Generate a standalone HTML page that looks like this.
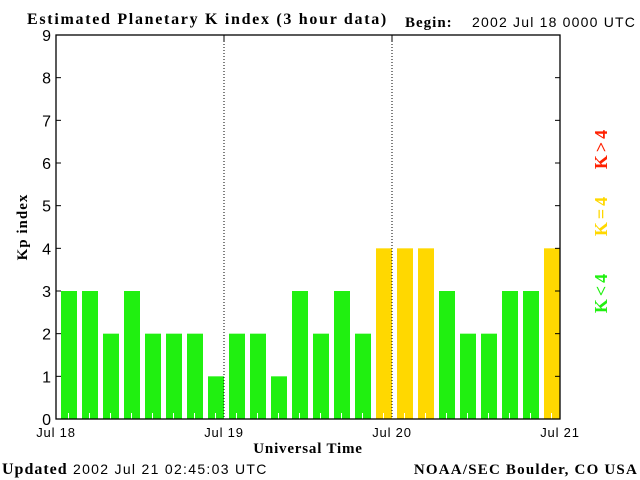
<!DOCTYPE html>
<html><head><meta charset="utf-8"><style>
html,body{margin:0;padding:0;background:#fff;}
svg{display:block;}
</style></head><body>
<svg width="640" height="480" xmlns="http://www.w3.org/2000/svg">
<rect x="0" y="0" width="640" height="480" fill="#fff"/>
<text x="27" y="24" font-family="Liberation Serif, serif" font-weight="bold" font-size="16" letter-spacing="1.7">Estimated Planetary K index (3 hour data)</text>
<text x="405" y="27" font-family="Liberation Serif, serif" font-weight="bold" font-size="15" letter-spacing="1">Begin:</text>
<text x="472" y="27" font-family="Liberation Sans, sans-serif" font-size="14" letter-spacing="1.2">2002 Jul 18 0000 UTC</text>
<g id="bars"></g>
<g id="axes"></g>
<text transform="translate(27,227) rotate(-90)" text-anchor="middle" font-family="Liberation Serif, serif" font-weight="bold" font-size="15" letter-spacing="1">Kp index</text>
<text x="308" y="453" text-anchor="middle" font-family="Liberation Serif, serif" font-weight="bold" font-size="15" letter-spacing="0.8">Universal Time</text>
<text x="2" y="474" font-family="Liberation Serif, serif" font-weight="bold" font-size="16" letter-spacing="1">Updated</text>
<text x="73" y="474" font-family="Liberation Sans, sans-serif" font-size="14" letter-spacing="1.3">2002 Jul 21 02:45:03 UTC</text>
<text x="638" y="474" text-anchor="end" font-family="Liberation Serif, serif" font-weight="bold" font-size="15" letter-spacing="1.2">NOAA/SEC Boulder, CO USA</text>
<text transform="translate(607,148) rotate(-90)" text-anchor="middle" fill="#ff2000" font-family="Liberation Serif, serif" font-weight="bold" font-size="18" letter-spacing="3">K&gt;4</text>
<text transform="translate(607,215) rotate(-90)" text-anchor="middle" fill="#ffd800" font-family="Liberation Serif, serif" font-weight="bold" font-size="18" letter-spacing="3">K=4</text>
<text transform="translate(607,292) rotate(-90)" text-anchor="middle" fill="#20f010" font-family="Liberation Serif, serif" font-weight="bold" font-size="18" letter-spacing="3">K&lt;4</text>
</svg>
<script>
const kpValues = [3,3,2,3,2,2,2,1, 2,2,1,3,2,3,2,4, 4,4,3,2,2,3,3,4];
const yTicks = [0,1,2,3,4,5,6,7,8,9];
const dayLabels = ["Jul 18","Jul 19","Jul 20","Jul 21"];
const NS="http://www.w3.org/2000/svg";
const L=56,R=560,T=35,B=419;
const yS=v=>B-(B-T)*v/9;
const xS=i=>L+(R-L)*i/kpValues.length;
function mk(tag,attrs,parent){const e=document.createElementNS(NS,tag);for(const k in attrs)e.setAttribute(k,attrs[k]);parent.appendChild(e);return e;}
const bars=document.getElementById('bars'),axes=document.getElementById('axes');
const slot=(R-L)/kpValues.length;
kpValues.forEach((v,i)=>{
  const col=v>4?'#ff2000':(v==4?'#ffd800':'#20f010');
  const r=mk('rect',{x:xS(i)+5,y:yS(v),width:slot-5,height:B-yS(v),fill:col},bars);
  
  
  const t=mk('line',{x1:xS(i)+slot/2+2,x2:xS(i)+slot/2+2,y1:B-6,y2:B,stroke:'#fff','stroke-width':1},bars);
  
  
});
const fr=mk('rect',{x:L,y:T,width:R-L,height:B-T,fill:'none',stroke:'#000','stroke-width':1.3},axes);


yTicks.forEach(v=>{
  const y=yS(v);
  mk('line',{x1:L,x2:L+5,y1:y,y2:y,stroke:'#000'},axes);
  mk('line',{x1:R-5,x2:R,y1:y,y2:y,stroke:'#000'},axes);
  const t=mk('text',{x:L-5,y:y+6,'text-anchor':'end','font-family':'Liberation Sans, sans-serif','font-size':16},axes);
  t.textContent=v;
  
  
});
dayLabels.forEach((d,i)=>{
  const x=L+(R-L)*i/(dayLabels.length-1);
  if(i>0&&i<dayLabels.length-1){
    const dl=mk('line',{x1:x,x2:x,y1:T,y2:B,stroke:'#000','stroke-dasharray':'1,2'},axes);
    
    
    mk('line',{x1:x,x2:x,y1:T,y2:T+6,stroke:'#000'},axes);
  }
  const t=mk('text',{x:x,y:B+18,'text-anchor':'middle','font-family':'Liberation Sans, sans-serif','font-size':13,'letter-spacing':'0.8'},axes);
  t.textContent=d;
  
  
});
</script>
</body></html>
